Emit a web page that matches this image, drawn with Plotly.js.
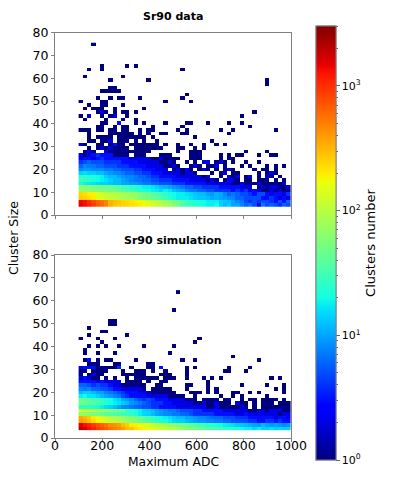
<!DOCTYPE html>
<html><head><meta charset="utf-8">
<script src="https://cdn.plot.ly/plotly-3.0.1.min.js"></script>
<style>html,body{margin:0;padding:0;background:#fff}#c{width:395px;height:480px}</style>
</head><body><div id="c"></div>
<script>
const xTicks=[0,200,400,600,800,1000];
const yTicks=[0,10,20,30,40,50,60,70,80];
const adcFirstBin=109, adcBinWidth=18, sizeFirstBin=4.43, sizeBinWidth=1.564;
// counts per bin, lower rows (row 0 = smallest cluster size)
const dataDense=[
[1500,1300,1100,900,700,600,500,330,280,260,250,240,220,210,190,170,150,130,110,100,85,75,60,50,35,30,28,25,22,20,18,18,20,14,12,14,10,10,8,6,7,5,2,7,5,6,5,4,6,5],
[1400,1300,1000,800,650,550,480,320,290,270,240,230,210,190,180,160,140,120,110,90,80,65,55,45,40,30,26,24,22,20,18,18,18,14,13,12,10,8,7,5,4,5,4,5,5,4,3,5,3,6],
[260,240,220,200,150,130,120,110,100,100,90,80,80,75,60,55,50,45,40,35,28,24,20,18,18,18,16,14,13,13,12,10,11,10,9,8,8,6,6,5,5,5,5,3,3,4,3,2,3,2],
[240,220,200,190,140,130,110,100,95,90,85,80,70,70,60,50,45,40,35,30,26,22,20,18,18,16,15,13,12,12,10,9,11,10,8,6,7,6,5,5,4,3,5,5,3,2,3,3,2,4],
[70,70,65,60,60,55,55,50,50,45,40,35,30,30,25,22,20,18,17,15,18,16,12,11,10,8,7,7,6,6,5,5,4,4,4,4,3,4,3,4,2,3,2,1,1,2,1,2,1,1],
[65,60,60,55,50,50,45,45,40,35,30,28,25,22,20,18,18,16,14,12,11,10,9,8,7,6,6,5,5,4,4,4,4,3,3,3,3,3,2,2,2,0,1,2,1,2,2,1,1,2],
[20,18,17,16,15,14,14,13,12,12,10,10,9,9,8,7,7,6,6,5,5,5,4,4,4,3,3,3,3,3,2,2,2,2,2,2,1,1,2,1,1,1,2,1,1,1,1,1,2,0],
[30,28,25,22,20,18,16,14,12,12,10,9,8,7,7,6,6,5,5,4,4,4,3,3,3,3,2,2,2,2,1,2,1,0,1,2,2,1,0,1,1,0,1,1,1,0,1,0,1,0],
[25,25,22,22,20,18,14,12,12,10,9,8,8,7,6,6,5,4,4,3,3,3,3,2,2,2,2,2,2,1,2,0,0,1,0,2,1,2,0,1,2,0,1,0,2,1,0,1,0,0],
[14,16,14,14,12,12,10,9,8,8,7,6,6,5,5,4,4,3,3,3,2,2,2,2,1,2,2,1,0,0,0,1,0,1,2,0,1,1,0,0,0,0,1,0,1,2,1,0,0,0],
[8,9,9,8,8,8,7,7,6,6,5,5,5,4,4,3,3,3,2,2,2,0,1,2,1,2,1,0,1,2,1,0,1,0,1,2,1,0,0,0,0,1,0,1,1,0,1,0,0,0],
[6,8,7,7,6,6,5,5,5,4,4,4,3,3,3,3,2,2,2,2,1,1,2,1,0,0,1,2,1,0,1,1,2,0,1,0,0,0,1,0,1,0,0,0,1,0,1,0,1,0],
[4,5,6,5,5,5,4,4,4,4,3,3,3,3,2,2,2,2,2,1,1,2,1,0,0,1,0,1,0,2,2,0,1,2,1,0,1,0,0,1,0,0,1,0,0,0,0,0,0,0],
[2,3,3,2,3,4,3,3,3,3,3,3,2,2,2,2,2,1,1,2,1,1,1,1,0,0,1,1,1,0,0,0,0,1,0,1,1,0,0,0,0,0,0,0,0,0,0,0,0,0]
];
// columns holding a single cluster, rows 14 upward
const dataUpper=[
[0,1,2,3,4,5,6,7,8,9,10,11,13,14,15,19,20,21,26,27,28,33,35,37,38,42,45,46],
[1,2,3,6,7,8,9,10,11,12,13,14,15,16,23,26,27,28,39,44],
[2,4,5,6,7,8,9,10,11,13,14,15,16,17,18,19,23,24,27,29],
[0,1,4,5,7,8,9,10,12,13,14,15,16,17,18,20,23,26,29,32,34],
[2,3,5,6,7,9,10,11,13,15,18,31],
[2,4,5,6,7,9,10,11,12,13,14,15,17,27],
[2,7,8,9,10,11,12,14,16,19,20,24,25,35],
[0,1,2,4,5,7,8,10,11,14,16,17,23,25,33,36,46],
[4,5,8,10,11,17,24,40],
[5,6,9,13,15,20,25,26,30,35,38],
[1,6,10,13],
[0,2,5,7,8,11,38],
[4,5,6,8,10,11,13,41],
[1,3,4,5,8,15],
[2,5,6,10],
[0,5,6,20,26],
[4,7,9,10,14,24],
[25],
[5,6,7,8,9],
[7,8],
[44],
[7,16,44],
[1,10],
[],
[2,5,24],
[5,11,13],
[],[],[],[],[],
[3]
];
const dataBright=[[14,0,2],[14,2,2],[14,3,3],[14,4,4],[14,5,3],[14,6,3],[14,7,3],[15,2,2],[15,6,2],[16,5,2],[16,7,2],[17,0,2],[17,8,3],[18,7,2],[25,2,2],[26,5,2],[25,8,2],[23,9,3]];

const simDense=[
[2000,1600,1300,1100,900,800,700,550,500,450,400,300,280,220,200,180,170,150,130,120,110,95,90,80,70,65,60,55,50,45,40,35,35,30,28,26,24,22,20,18,18,15,18,14,14,16,14,15,14,14],
[1600,1300,1100,900,750,650,550,450,420,380,300,260,200,190,170,150,130,120,100,90,80,70,65,55,50,45,40,35,30,28,25,24,22,20,18,17,16,14,13,12,11,10,9,12,10,9,10,9,8,9],
[400,350,280,220,180,150,130,110,100,90,80,70,60,55,45,40,35,30,26,22,20,18,15,14,14,12,11,10,9,9,8,8,7,7,6,6,5,5,5,5,4,4,3,3,4,4,3,4,3,3],
[350,300,260,200,170,140,120,100,90,85,75,65,60,50,45,38,32,28,24,20,18,16,14,12,12,10,10,9,8,8,7,6,6,6,5,5,5,4,4,4,3,3,3,3,3,3,2,3,3,2],
[70,65,60,55,50,45,40,38,35,32,30,28,26,22,18,15,14,12,10,9,8,8,7,7,6,6,5,4,4,4,4,4,3,3,3,3,3,2,2,3,2,2,2,2,2,2,2,1,2,2],
[130,120,110,100,90,80,70,60,55,50,45,30,25,22,18,15,14,12,10,9,8,7,7,6,5,5,5,4,4,3,3,3,3,3,2,2,2,2,2,2,1,1,2,2,1,2,2,2,1,1],
[25,25,24,22,20,18,16,14,12,10,8,8,7,6,6,5,5,4,4,3,3,3,3,2,2,2,2,2,2,2,1,1,2,1,1,1,1,1,2,1,0,1,0,1,1,1,1,1,1,1],
[50,45,40,38,35,30,25,20,18,16,14,12,9,8,7,6,5,4,4,4,3,3,2,2,2,2,2,1,1,2,1,1,2,1,1,1,0,2,1,1,0,1,0,1,1,1,0,1,1,1],
[45,40,38,32,30,26,22,20,16,14,10,9,8,6,5,4,5,4,3,3,3,2,2,2,2,1,1,1,0,1,1,1,1,0,1,1,0,0,1,0,1,1,0,1,1,1,1,0,1,0],
[18,20,16,16,14,12,10,9,8,7,5,4,3,3,3,3,2,2,2,2,2,1,1,1,1,0,0,1,0,0,0,0,0,1,0,0,1,0,1,0,0,0,0,0,1,0,0,0,0,0],
[12,14,14,12,10,10,8,7,6,5,4,3,3,3,2,2,2,1,1,1,1,1,1,0,0,0,1,1,1,0,1,0,1,0,0,0,1,1,0,0,1,0,1,0,0,0,0,0,1,0],
[8,7,8,6,6,5,5,4,3,3,2,2,2,2,2,1,0,1,1,1,1,1,0,0,0,1,0,0,0,0,1,0,1,0,0,0,0,0,0,0,0,0,0,0,0,0,1,0,1,0],
[6,6,5,4,5,4,4,3,2,2,1,1,1,1,1,1,0,0,1,1,0,0,0,0,0,1,1,0,0,0,1,0,0,0,0,0,0,0,1,0,0,0,0,0,1,0,0,0,1,0],
[3,3,3,3,2,3,2,2,2,2,0,1,1,1,1,0,1,0,0,1,1,0,0,0,0,0,0,0,0,0,1,0,0,0,0,0,0,0,0,0,0,0,0,0,0,0,0,0,0,0]
];
const simUpper=[
[0,1,2,3,4,6,8,11,13,14,15,16,17,18,20,21,22,25,29,31,33,45,47],
[0,2,3,4,5,10,11,12,13,14,15,19,20,21,25],
[0,1,3,4,5,6,10,13,14,15,17,20,25,34,35,39],
[0,1,2,3,4,5,6,7,8,9,12,16,17,19,25,27,35,40],
[2,3,4,8,9,16,17],
[1,2,4,6,7,13,24,27,42],
[36],
[1,4,8,21],
[1],
[2,4,6,9,15,22],
[5,27],
[0,4,8,28],
[2,11],
[5,6],
[2],
[7,8],
[7,8],
[],[],
[22],
[],[],[],[],
[23]
];
const simBright=[[14,0,2],[14,1,3],[14,2,2],[15,3,2],[17,0,2],[17,1,3],[17,2,3],[17,3,3],[17,9,4],[19,2,3],[17,19,3]];

function toGrid(dense,upper,bright){
  const grid=dense.map(r=>r.slice());
  upper.forEach(cols=>{const r=new Array(50).fill(0);cols.forEach(c=>r[c]=1);grid.push(r);});
  bright.forEach(b=>{grid[b[0]][b[1]]=b[2];});
  return grid.map(r=>r.map(v=>v>0?Math.log10(v):null));
}
const cmax=3.48;
const jet=[[0,'#00007f'],[0.11,'#0000ff'],[0.125,'#0000ff'],[0.34,'#00dbff'],[0.35,'#00e6f7'],[0.375,'#14ffe2'],[0.64,'#edff0a'],[0.65,'#f7f600'],[0.66,'#ffed00'],[0.89,'#ff1300'],[0.91,'#e80000'],[1,'#7f0000']];
const minorVals=[];
[0,1,2,3].forEach(d=>[2,3,4,5,6,7,8,9].forEach(m=>{const v=d+Math.log10(m);if(v<cmax)minorVals.push(v);}));
const cbBase={x:315.7/395,xanchor:'left',xpad:0,ypad:0,y:1-243/480,yanchor:'middle',thickness:20,thicknessmode:'pixels',len:434,lenmode:'pixels',outlinecolor:'#808080',outlinewidth:1,ticks:'outside',tickcolor:'#666',tickwidth:1,tickmode:'array',tickfont:{family:'DejaVu Sans',size:11,color:'#000'}};
function heat(grid,xa,ya,cb){
  return {type:'heatmap',z:grid,x0:adcFirstBin,dx:adcBinWidth,y0:sizeFirstBin,dy:sizeBinWidth,xaxis:xa,yaxis:ya,zmin:0,zmax:cmax,colorscale:jet,hoverongaps:false,colorbar:cb};
}
const traces=[
 heat(toGrid(dataDense,dataUpper,dataBright),'x','y',Object.assign({},cbBase,{tickvals:minorVals,showticklabels:false,ticklen:2})),
 heat(toGrid(simDense,simUpper,simBright),'x2','y2',Object.assign({},cbBase,{tickvals:[0,1,2,3],ticktext:['10<sup>0</sup>','10<sup>1</sup>','10<sup>2</sup>','10<sup>3</sup>'],ticklen:3.5,title:{text:'Clusters number',side:'right',font:{family:'DejaVu Sans',size:13,color:'#000'}}}))
];
const font={family:'DejaVu Sans',size:12.5,color:'#000'};
function axis(extra){return Object.assign({showgrid:false,zeroline:false,showline:true,mirror:true,linecolor:'#808080',linewidth:1,ticks:'outside',ticklen:3,tickcolor:'#808080',tickfont:font,tickmode:'array'},extra);}
const xDom=[55/395,291/395];
const layout={width:395,height:480,margin:{l:0,r:0,t:0,b:0},paper_bgcolor:'#fff',plot_bgcolor:'#fff',showlegend:false,
 xaxis:axis({domain:xDom,range:[0,1000],tickvals:xTicks,showticklabels:false,anchor:'y'}),
 yaxis:axis({domain:[1-215/480,1-32.7/480],range:[0,80],tickvals:yTicks,anchor:'x'}),
 xaxis2:axis({domain:xDom,range:[0,1000],tickvals:xTicks,anchor:'y2',ticklabelstandoff:-7}),
 yaxis2:axis({domain:[1-438/480,1-255/480],range:[0,80],tickvals:yTicks,anchor:'x2'}),
 annotations:[
  {text:'<b>Sr90 data</b>',xref:'paper',yref:'paper',x:173/395,y:1-17/480,xanchor:'center',yanchor:'middle',showarrow:false,font:{family:'DejaVu Sans',size:11,color:'#000'}},
  {text:'<b>Sr90 simulation</b>',xref:'paper',yref:'paper',x:173/395,y:1-240/480,xanchor:'center',yanchor:'middle',showarrow:false,font:{family:'DejaVu Sans',size:11,color:'#000'}},
  {text:'Cluster Size',xref:'paper',yref:'paper',x:13/395,y:1-238/480,xanchor:'center',yanchor:'middle',textangle:-90,showarrow:false,font:{family:'DejaVu Sans',size:12.5,color:'#000'}},
  {text:'Maximum ADC',xref:'paper',yref:'paper',x:173/395,y:1-462/480,xanchor:'center',yanchor:'middle',showarrow:false,font:{family:'DejaVu Sans',size:12.3,color:'#000'}}
 ]};
Plotly.newPlot('c',traces,layout,{displayModeBar:false,staticPlot:true});
</script></body></html>
